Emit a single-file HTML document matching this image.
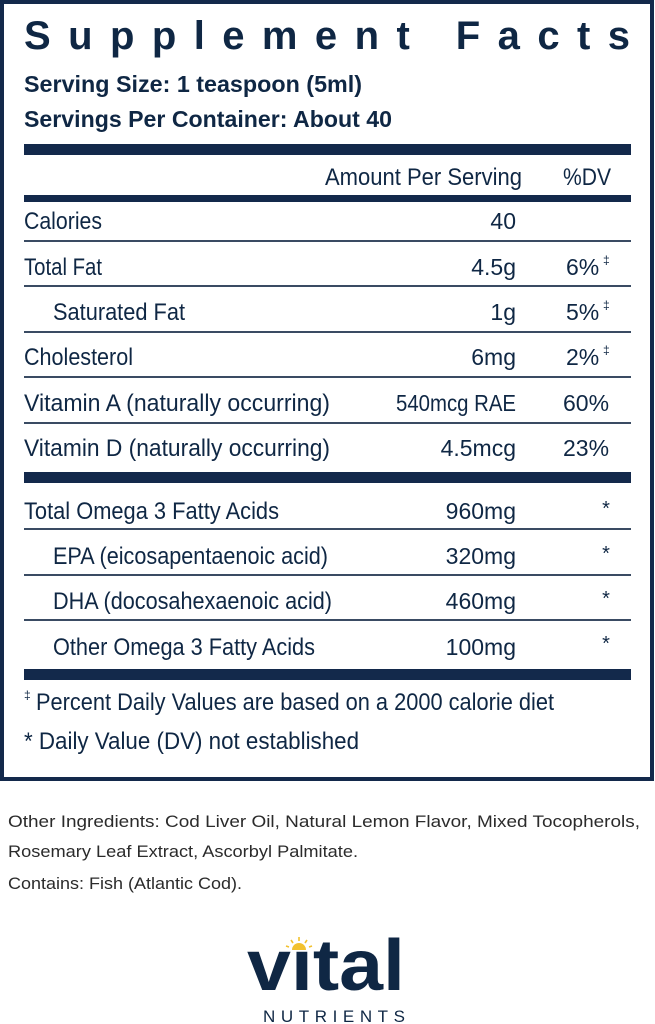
<!DOCTYPE html>
<html><head><meta charset="utf-8"><style>
html,body{margin:0;padding:0;background:#fff;}
svg{display:block;}
text{font-family:"Liberation Sans",sans-serif;fill:#0f2744;}
.r{font-size:24px;}
.v{font-size:23px;}
.b{font-size:23px;font-weight:bold;}
.g{font-size:17px;fill:#2b2b2b;}
</style></head><body>
<svg width="655" height="1024" viewBox="0 0 655 1024" xmlns="http://www.w3.org/2000/svg">
<rect x="2" y="2" width="650" height="777" fill="none" stroke="#13294b" stroke-width="4"/>
<text x="24" y="49" font-size="40" font-weight="bold" textLength="606" lengthAdjust="spacing">Supplement Facts</text>
<text class="b" x="24" y="92" textLength="338" lengthAdjust="spacingAndGlyphs">Serving Size: 1 teaspoon (5ml)</text>
<text class="b" x="24" y="127" textLength="368" lengthAdjust="spacingAndGlyphs">Servings Per Container: About 40</text>
<rect x="24" y="144" width="607" height="11" fill="#13294b"/>
<text class="r" x="325" y="185" textLength="197" lengthAdjust="spacingAndGlyphs">Amount Per Serving</text>
<text class="r" x="563" y="185" textLength="48" lengthAdjust="spacingAndGlyphs">%DV</text>
<rect x="24" y="195" width="607" height="7" fill="#13294b"/>
<g fill="#3a4b63">
<rect x="24" y="240" width="607" height="2"/>
<rect x="24" y="285" width="607" height="2"/>
<rect x="24" y="331" width="607" height="2"/>
<rect x="24" y="376" width="607" height="2"/>
<rect x="24" y="422" width="607" height="2"/>
<rect x="24" y="528" width="607" height="2"/>
<rect x="24" y="574" width="607" height="2"/>
<rect x="24" y="619" width="607" height="2"/>
</g>
<rect x="24" y="472" width="607" height="11" fill="#13294b"/>
<rect x="24" y="669" width="607" height="11" fill="#13294b"/>
<text class="r" x="24" y="229" textLength="78" lengthAdjust="spacingAndGlyphs">Calories</text>
<text class="v" x="516" y="229" text-anchor="end">40</text>
<text class="r" x="24" y="275" textLength="78" lengthAdjust="spacingAndGlyphs">Total Fat</text>
<text class="v" x="516" y="275" text-anchor="end">4.5g</text>
<text class="v" x="566" y="275">6%</text><text x="603" y="264" font-size="12">‡</text>
<text class="r" x="53" y="320" textLength="132" lengthAdjust="spacingAndGlyphs">Saturated Fat</text>
<text class="v" x="516" y="320" text-anchor="end">1g</text>
<text class="v" x="566" y="320">5%</text><text x="603" y="309" font-size="12">‡</text>
<text class="r" x="24" y="365" textLength="109" lengthAdjust="spacingAndGlyphs">Cholesterol</text>
<text class="v" x="516" y="365" text-anchor="end">6mg</text>
<text class="v" x="566" y="365">2%</text><text x="603" y="354" font-size="12">‡</text>
<text class="r" x="24" y="411" textLength="306" lengthAdjust="spacingAndGlyphs">Vitamin A (naturally occurring)</text>
<text class="v" x="516" y="411" text-anchor="end" textLength="120" lengthAdjust="spacingAndGlyphs">540mcg RAE</text>
<text class="v" x="563" y="411">60%</text>
<text class="r" x="24" y="456" textLength="306" lengthAdjust="spacingAndGlyphs">Vitamin D (naturally occurring)</text>
<text class="v" x="516" y="456" text-anchor="end">4.5mcg</text>
<text class="v" x="563" y="456">23%</text>
<text class="r" x="24" y="519" textLength="255" lengthAdjust="spacingAndGlyphs">Total Omega 3 Fatty Acids</text>
<text class="v" x="516" y="519" text-anchor="end">960mg</text>
<text class="r" x="53" y="564" textLength="275" lengthAdjust="spacingAndGlyphs">EPA (eicosapentaenoic acid)</text>
<text class="v" x="516" y="564" text-anchor="end">320mg</text>
<text class="r" x="53" y="609" textLength="279" lengthAdjust="spacingAndGlyphs">DHA (docosahexaenoic acid)</text>
<text class="v" x="516" y="609" text-anchor="end">460mg</text>
<text class="r" x="53" y="655" textLength="262" lengthAdjust="spacingAndGlyphs">Other Omega 3 Fatty Acids</text>
<text class="v" x="516" y="655" text-anchor="end">100mg</text>
<text x="606" y="515" font-size="20" text-anchor="middle">*</text>
<text x="606" y="560" font-size="20" text-anchor="middle">*</text>
<text x="606" y="605" font-size="20" text-anchor="middle">*</text>
<text x="606" y="650" font-size="20" text-anchor="middle">*</text>
<text x="24" y="699" font-size="12">‡</text>
<text class="r" x="36" y="710" textLength="518" lengthAdjust="spacingAndGlyphs">Percent Daily Values are based on a 2000 calorie diet</text>
<text class="r" x="24" y="749" textLength="335" lengthAdjust="spacingAndGlyphs">* Daily Value (DV) not established</text>
<text class="g" x="8" y="827" textLength="632" lengthAdjust="spacingAndGlyphs">Other Ingredients: Cod Liver Oil, Natural Lemon Flavor, Mixed Tocopherols,</text>
<text class="g" x="8" y="857" textLength="350" lengthAdjust="spacingAndGlyphs">Rosemary Leaf Extract, Ascorbyl Palmitate.</text>
<text class="g" x="8" y="889" textLength="234" lengthAdjust="spacingAndGlyphs">Contains: Fish (Atlantic Cod).</text>
<text x="247" y="990" font-size="72" font-weight="bold" textLength="158" lengthAdjust="spacingAndGlyphs">vıtal</text>
<path d="M292 950 A7 7 0 0 1 306 950 Z" fill="#f2c12e"/>
<g stroke="#f2c12e" stroke-width="1.6">
<line x1="299" y1="937" x2="299" y2="941"/>
<line x1="291" y1="940" x2="293" y2="943"/>
<line x1="307" y1="940" x2="305" y2="943"/>
<line x1="286" y1="946" x2="289" y2="947"/>
<line x1="312" y1="946" x2="309" y2="947"/>
</g>
<text x="263" y="1022" font-size="17" textLength="142" lengthAdjust="spacing">NUTRIENTS</text>
</svg>
</body></html>
